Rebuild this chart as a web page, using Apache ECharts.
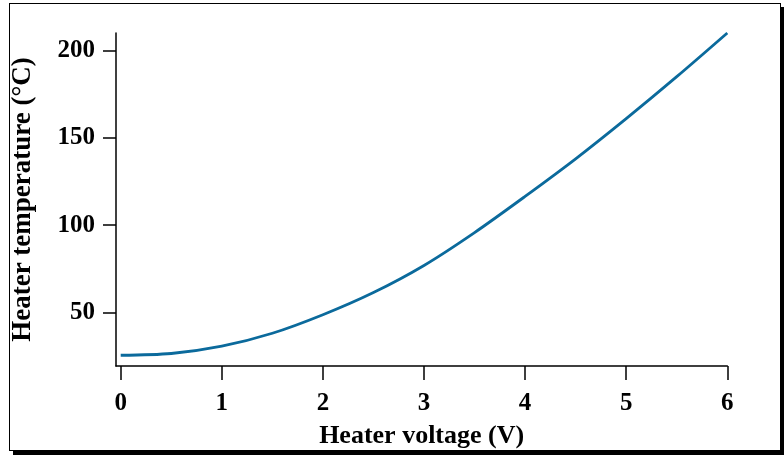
<!DOCTYPE html>
<html>
<head>
<meta charset="utf-8">
<script src="https://cdn.jsdelivr.net/npm/echarts@6/dist/echarts.min.js"></script>
<style>
  html, body { margin: 0; padding: 0; background: #fff; }
  #wrap { position: relative; width: 784px; height: 457px; }
  #frame { position: absolute; left: 9px; top: 3px; width: 770px; height: 446px;
           border: 1.5px solid #000; box-shadow: 4px 4px 0 #000; background: #fff; }
  #chart { position: absolute; left: 0; top: 0; width: 784px; height: 457px; }
</style>
</head>
<body>
<div id="wrap">
  <div id="frame"></div>
  <div id="chart"></div>
</div>
<script>
const voltage = [0, 0.5, 1, 1.5, 2, 2.5, 3, 3.5, 4, 4.5, 5, 5.5, 6];
const temperature = [25.6, 26.6, 30.8, 38.2, 48.8, 61.5, 77, 95.8, 116.5, 138, 161, 185, 210];
const xTicks = [0, 1, 2, 3, 4, 5, 6];
const yTicks = [50, 100, 150, 200];
const xTitle = 'Heater voltage (V)';
const yTitle = 'Heater temperature (°C)';

const font = 'Liberation Serif, Times New Roman, serif';
const chart = echarts.init(document.getElementById('chart'), null, { renderer: 'canvas' });
chart.setOption({
  backgroundColor: 'transparent',
  animation: false,
  grid: { left: 116, right: 56.7, top: 33, bottom: 91, containLabel: false },
  xAxis: {
    type: 'value', min: -0.0465, max: 6,
    name: xTitle, nameLocation: 'middle', nameGap: 57,
    nameTextStyle: { fontFamily: font, fontWeight: 'bold', fontSize: 26, color: '#000' },
    axisLine: { show: true, onZero: false, lineStyle: { color: '#000', width: 1.5 } },
    axisTick: { show: true, length: 14, lineStyle: { color: '#000', width: 1.5 }, customValues: xTicks },
    axisLabel: { customValues: xTicks, margin: 25, fontFamily: font, fontWeight: 'bold', fontSize: 25, color: '#000' },
    splitLine: { show: false }
  },
  yAxis: {
    type: 'value', min: 19.45, max: 210,
    name: yTitle, nameLocation: 'middle', nameGap: 79,
    nameTextStyle: { fontFamily: font, fontWeight: 'bold', fontSize: 27, color: '#000' },
    axisLine: { show: true, onZero: false, lineStyle: { color: '#000', width: 1.5 } },
    axisTick: { show: true, length: 13, lineStyle: { color: '#000', width: 1.5 }, customValues: yTicks },
    axisLabel: { customValues: yTicks, margin: 21, fontFamily: font, fontWeight: 'bold', fontSize: 25, color: '#000' },
    splitLine: { show: false }
  },
  series: [{
    type: 'line',
    data: voltage.map((v, i) => [v, temperature[i]]),
    smooth: 0.3,
    showSymbol: false,
    lineStyle: { color: '#0b6a9c', width: 2.8 }
  }]
});
</script>
</body>
</html>
